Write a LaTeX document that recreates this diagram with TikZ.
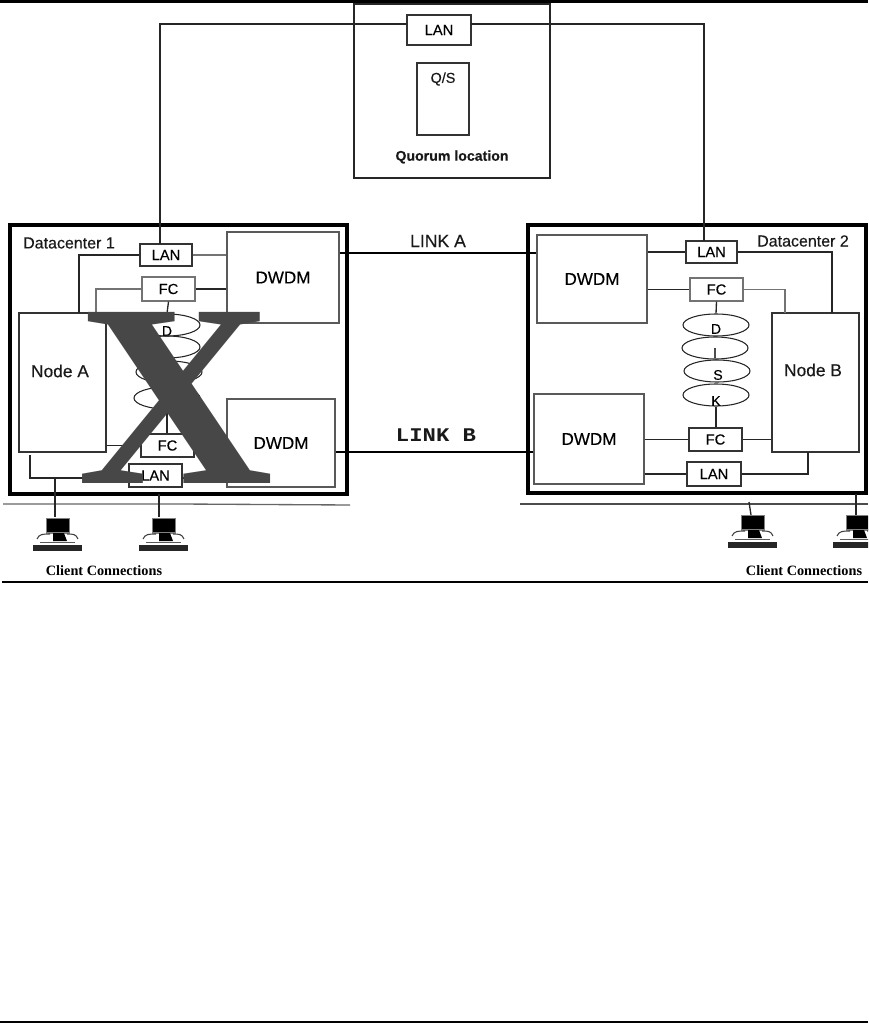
\documentclass[tikz,border=0pt]{standalone}
\usepackage{fontspec}
\setmainfont{Liberation Sans}[FakeBold=0.3]
\newfontfamily\timesf{Liberation Serif}
\newfontfamily\monof{Liberation Mono}
\newcommand{\fs}[1]{\fontsize{#1}{#1}\selectfont}
\newcommand{\Bx}[7][thinbox]{%
  \pgfmathsetmacro\bw{(#5-#3)*0.75}\pgfmathsetmacro\bh{(#6-#4)*0.75}%
  \node[#1,minimum width=\bw pt,minimum height=\bh pt] (#2) at ({(#3+#5)/2},{(#4+#6)/2}) {#7};}
\newcommand{\Comp}[2]{%
  \begin{scope}[shift={(#1,#2)}]
    \filldraw[fill=black,draw=black!50,line width=1pt] (-11.5,-30.5) rectangle (11.5,-16);
    \fill[black] (-5,-16) -- (6,-16) -- (9,-8) -- (-5,-8) -- cycle;
    \draw[line width=0.8pt,black!75] (-21,-10) .. controls (-19,-15) and (-15,-15) .. (-8,-15);
    \draw[line width=0.8pt,black!75] (9,-15) .. controls (15,-15) and (18,-15) .. (20,-10);
    \fill[black!65] (-18,-7.5) rectangle (17,-6);
    \fill[black!85] (-25,-4) rectangle (24,2);
  \end{scope}}
\tikzset{
  x=0.75pt,y=-0.75pt,
  line/.style={line width=1pt,draw=black!85},
  greyline/.style={line width=1pt,draw=black!55},
  link/.style={line width=2.2pt,draw=black},
  frame/.style={line width=2.4pt,draw=black},
  thinbox/.style={draw=black!80,line width=1pt,inner sep=0pt,fill=white,font=\fs{11}},
  greybox/.style={draw=black!55,line width=1pt,inner sep=0pt,fill=white,font=\fs{11}},
  bigbox/.style={draw=black!65,line width=1pt,inner sep=0pt,fill=white,font=\fs{12.8}},
  disk/.style={ellipse,draw=black!85,line width=0.8pt,minimum width=49.5pt,minimum height=16.5pt,inner sep=0pt},
  disklbl/.style={inner sep=0pt,font=\fs{10.5}},
  lbl/.style={inner sep=0pt,font=\fs{12},text=black!90},
  client/.style={inner sep=0pt,font=\timesf\bfseries\fs{10.7}},
  rulebar/.style={line width=2pt,draw=black},
}
\usetikzlibrary{shapes.geometric}
\begin{document}
\begin{tikzpicture}
\useasboundingbox (0,0) rectangle (868,1023);
% page rules
\coordinate (tl) at (0,1); \coordinate (tr) at (868,1);
\coordinate (ml) at (2,582); \coordinate (mr) at (868,582);
\coordinate (bl) at (0,1022); \coordinate (br) at (868,1022);
\draw[line width=2.4pt] (tl) -- (tr);
\draw[rulebar] (ml) -- (mr);
\draw[line width=1.2pt] (bl) -- (br);
% frames
\Bx[draw=black!85,line width=1.2pt,inner sep=0pt]{quorum}{354}{4}{550}{178}{}
\Bx[frame]{dca}{10}{225}{347}{494}{}
\Bx[frame]{dcb}{528}{225}{866}{493}{}
% quorum
\Bx[thinbox]{lanq}{407}{15}{471}{45}{LAN}
\Bx[thinbox]{qs}{417}{63}{469}{135}{}
\node[lbl,font=\fs{10.8}] (qstext) at (443,79) {Q/S};
\node[lbl,font=\bfseries\fs{10.6}] (qloc) at (452,157) {Quorum location};
% datacenter 1
\node[lbl] (dc1) at (69,243) {Datacenter 1};
\Bx[thinbox]{lana}{140}{244}{192}{266}{LAN}
\Bx[greybox]{fca}{142}{277}{195}{301}{FC}
\Bx[bigbox]{dwa}{227}{232}{339}{323}{DWDM}
\Bx[bigbox]{dwb}{227}{399}{335}{487}{DWDM}
\Bx[thinbox]{nodea}{19}{313}{106}{452}{}
\node[lbl,font=\fs{13}] (nodeatext) at (60,371) {Node A};
\Bx[thinbox]{fcb}{141}{434}{194}{457}{FC}
\Bx[thinbox]{lanb}{129}{464}{182}{487}{LAN}
\node[disk] (d1) at (167,325) {};
\node[disklbl] (d1t) at (167,331) {D};
\node[disk] (d2) at (167,347) {};
\node[disk] (d3) at (169,372) {};
\node[disk] (d4) at (167,398) {};
% datacenter 2
\node[lbl] (dc2) at (803,241) {Datacenter 2};
\Bx[thinbox]{lanc}{686}{241}{737}{263}{LAN}
\Bx[greybox]{fcc}{690}{278}{743}{301}{FC}
\Bx[bigbox]{dwc}{537}{235}{647}{323}{DWDM}
\Bx[bigbox]{dwd}{534}{394}{644}{484}{DWDM}
\Bx[thinbox]{nodeb}{772}{313}{859}{452}{}
\node[lbl,font=\fs{13}] (nodebtext) at (813,370) {Node B};
\Bx[thinbox]{fcd}{689}{428}{742}{451}{FC}
\Bx[thinbox]{land}{687}{462}{741}{486}{LAN}
\node[disk] (e1) at (716,325) {};
\node[disk] (e2) at (715,348) {};
\node[disk] (e3) at (717,371) {};
\node[disk] (e4) at (716,395) {};
\node[disklbl] (e1t) at (716,329) {D};
\node[disklbl] (e2t) at (715,353) {I};
\node[disklbl] (e3t) at (718,375) {S};
\node[disklbl] (e4t) at (716,401) {K};
% junction points
\coordinate (q1) at (407,24); \coordinate (q2) at (471,24);
\coordinate (qa) at (160,24); \coordinate (qb) at (704,24);
\coordinate (a1) at (79,313); \coordinate (a2) at (96,313);
\coordinate (b1) at (832,313); \coordinate (b2) at (785,313);
\coordinate (a3) at (30,455); \coordinate (a4) at (30,478); \coordinate (b3) at (808,452);
\coordinate (t1) at (160,244); \coordinate (t2) at (704,241);
% LAN backbone
\draw[line] (q1) -- (qa) -- (t1);
\draw[line] (q2) -- (qb) -- (t2);
% DC1 wiring
\draw[line] (lana.west) -| (a1);
\draw[greyline] (lana.east) -- (lana.east -| dwa.west);
\draw[greyline] (fca.west) -| (a2);
\draw[line] (fca.east) -- (fca.east -| dwa.west);
\draw[line] (fca.south) -- (d1.north);
\draw[line] (d4.south) -- (d4.south |- fcb.north);
\draw[line] (fcb.west) -- (fcb.west -| nodea.east);
\draw[line] (a3) -- (a4) -- (a4 -| lanb.west);
\draw[line] (a4 -| lanb.east) -- (a4 -| dwb.west);
% DC2 wiring
\draw[line] (dwc.east |- lanc.west) -- (lanc.west);
\draw[line] (lanc.east) -| (b1);
\draw[line] (dwc.east |- fcc.west) -- (fcc.west);
\draw[greyline] (fcc.east) -| (b2);
\draw[line] (fcc.south) -- (e1.north);
\draw[line] (e4.south) -- (e4.south |- fcd.north);
\draw[line] (dwd.east |- fcd.west) -- (fcd.west);
\draw[line] (fcd.east) -- (fcd.east -| nodeb.west);
\draw[line] (dwd.east |- land.west) -- (land.west);
\draw[line] (land.east) -| (b3);
% links
\draw[link] (dwa.east |- 0,253) -- (dwc.west |- 0,253);
\draw[link] (dwb.east |- 0,452) -- (dwd.west |- 0,452);
\node[lbl,font=\fs{13.2}] (linka) at (438,241) {LINK A};
\node[lbl,font=\monof\bfseries\fs{14.5}] (linkb) at (436,435) {\scalebox{1.15}[1]{LINK B}};
% client LANs
\coordinate (c1) at (3,504); \coordinate (c2) at (180,504); \coordinate (c3) at (350,505);
\coordinate (c4) at (520,504); \coordinate (c5) at (868,504);
\draw[line,black!60] (c1) -- (c2) -- (c3);
\draw[line,black!70] (c4) -- (c5);
\coordinate (s1) at (55,478); \coordinate (s2) at (55,517);
\coordinate (s3) at (159,494); \coordinate (s4) at (159,517);
\coordinate (s5) at (749,502); \coordinate (s6) at (751,515);
\coordinate (s7) at (856,494); \coordinate (s8) at (856,516);
\draw[line] (s1) -- (s2); \draw[line] (s3) -- (s4);
\draw[line] (s5) -- (s6); \draw[line] (s7) -- (s8);
\Comp{58}{549} \Comp{164}{549} \Comp{753}{546}
\begin{scope}
\clip (830,500) rectangle (868,560);
\Comp{858}{546}
\end{scope}
\node[client] (cc1) at (104,571) {Client Connections};
\node[client] (cc2) at (804,571) {Client Connections};
% watermark
\node[anchor=base west,inner sep=0pt,text=black!72,font=\timesf\bfseries\fs{196}] (xmark) at (77,483) {\scalebox{1.04}[1]{X}};
\end{tikzpicture}
\end{document}
